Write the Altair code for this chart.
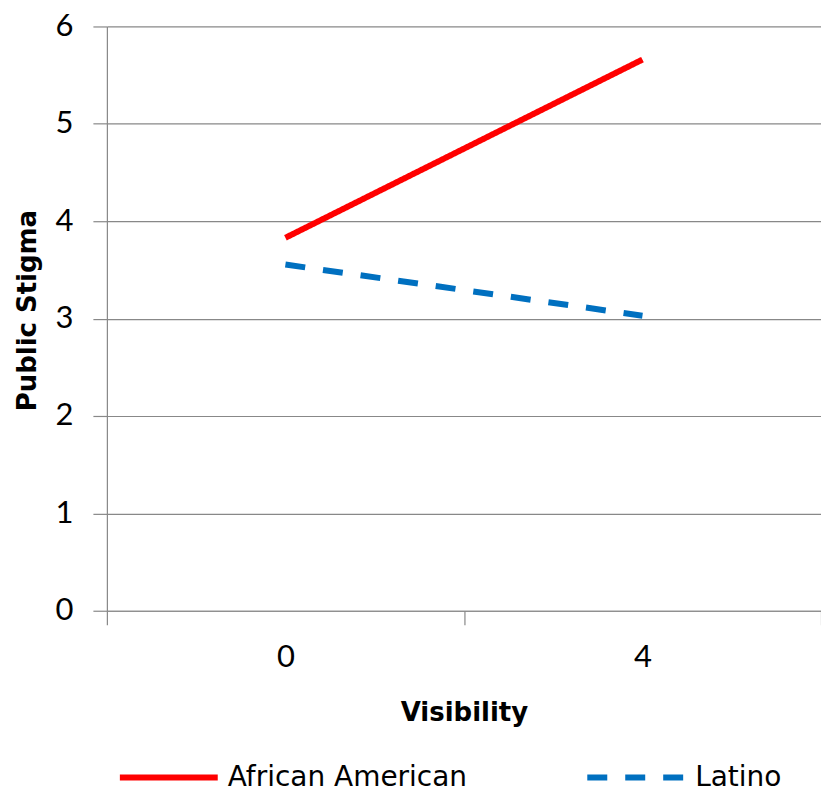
import altair as alt
import pandas as pd

visibility = [0, 4]
series_names = ["African American", "Latino"]
african_american = [3.83, 5.66]
latino = [3.555, 3.03]

rows = []
for v, a in zip(visibility, african_american):
    rows.append({"Visibility": v, "Stigma": a, "Group": series_names[0]})
for v, l in zip(visibility, latino):
    rows.append({"Visibility": v, "Stigma": l, "Group": series_names[1]})
df = pd.DataFrame(rows)

TICK_FONT = "Lato"
TEXT_FONT = "DejaVu Sans"

legend_props = dict(
    title=None,
    orient="none",
    direction="horizontal",
    legendX=10,
    legendY=700,
    symbolType="stroke",
    symbolSize=9604,
    symbolStrokeWidth=6,
    labelFontSize=28,
    labelFont=TEXT_FONT,
    labelColor="#000000",
    labelOffset=7,
    columnPadding=108,
    labelLimit=400,
    padding=0,
)

chart = alt.Chart(df).mark_line(strokeWidth=6, strokeCap="butt").encode(
    x=alt.X(
        "Visibility:Q",
        scale=alt.Scale(domain=[-2, 6], nice=False, zero=False),
        axis=alt.Axis(
            title="Visibility",
            values=[-2, 0, 2, 4, 6],
            labelExpr="datum.value == 0 || datum.value == 4 ? datum.label : ''",
            tickOpacity=alt.ExprRef(expr="datum.value == 0 || datum.value == 4 ? 0 : 1"),
            grid=False,
            tickSize=14,
            labelPadding=18,
            titlePadding=27,
        ),
    ),
    y=alt.Y(
        "Stigma:Q",
        scale=alt.Scale(domain=[0, 6], nice=False),
        axis=alt.Axis(
            title="Public Stigma",
            values=[0, 1, 2, 3, 4, 5, 6],
            tickSize=14,
            labelPadding=20,
            titlePadding=14,
            titleY=284,
        ),
    ),
    color=alt.Color(
        "Group:N",
        scale=alt.Scale(domain=series_names, range=["#FF0000", "#0070C0"]),
        legend=alt.Legend(**legend_props),
    ),
    strokeDash=alt.StrokeDash(
        "Group:N",
        scale=alt.Scale(domain=series_names, range=[[1, 0], [20, 18]]),
        legend=alt.Legend(**legend_props),
    ),
).properties(
    width=715,
    height=585,
    autosize=alt.AutoSizeParams(type="none"),
    padding={"left": 99, "top": 18, "right": 0, "bottom": 181},
).configure_view(
    stroke=None
).configure_axis(
    labelFont=TICK_FONT,
    titleFont=TEXT_FONT,
    labelFontSize=31,
    titleFontSize=26,
    titleFontWeight="bold",
    labelColor="#000000",
    titleColor="#000000",
    domainColor="#888888",
    tickColor="#888888",
    gridColor="#888888",
    domainWidth=1.2,
    gridWidth=1.2,
    tickWidth=1.2,
)

chart.save("out.html", embed_options={"renderer": "svg", "actions": False})
